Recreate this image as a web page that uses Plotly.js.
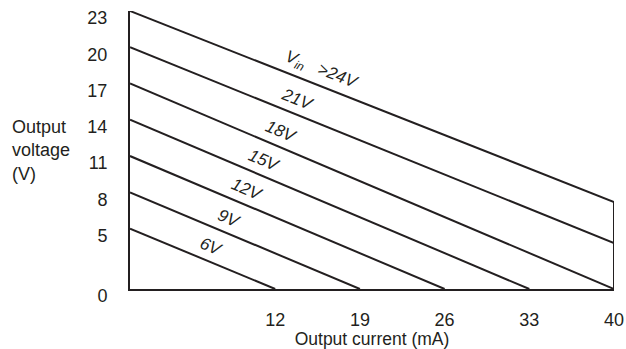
<!DOCTYPE html>
<html>
<head>
<meta charset="utf-8">
<script src="https://cdn.plot.ly/plotly-3.0.1.min.js"></script>
<style>html,body{margin:0;padding:0;background:#fff;}#chart{width:626px;height:349px;}</style>
</head>
<body>
<div id="chart"></div>
<script>
// ---- data ----
const inputLabels   = ['>24V', '21V', '18V', '15V', '12V', '9V', '6V'];
const startVoltage  = [23, 20, 17, 14, 11, 8, 5];        // V at 0 mA
const endCurrent    = [40, 40, 40, 33, 26, 19, 12];      // mA at end of line
const endVoltage    = [7.2, 3.8, 0, 0, 0, 0, 0];         // V at end of line
const voltageTicks  = [0, 5, 8, 11, 14, 17, 20, 23];
const currentTicks  = [12, 19, 26, 33, 40];

// ---- placement of the rotated line labels (current along each line, mA) ----
const labelCurrent  = [15.7, 13.7, 12.3, 10.9, 9.5, 8.0, 6.5];

const W = 626, H = 349;
const M = {l: 130, r: 12, t: 11, b: 60};
const xRange = [0, 40], yRange = [0, 23];
const ink = '#231f20';
const fontFam = '"Liberation Sans", Arial, Helvetica, sans-serif';

const traces = inputLabels.map((lab, i) => ({
  type: 'scatter', mode: 'lines', name: lab,
  x: [0, endCurrent[i]], y: [startVoltage[i], endVoltage[i]],
  line: {color: ink, width: 2}, hoverinfo: 'skip'
}));
// vertical limit at the right end of the top line
traces.push({
  type: 'scatter', mode: 'lines', name: 'limit',
  x: [endCurrent[0], endCurrent[0]], y: [0, endVoltage[0]],
  line: {color: ink, width: 2}, hoverinfo: 'skip'
});

const pw = W - M.l - M.r, ph = H - M.t - M.b;
const pxPerX = pw / (xRange[1] - xRange[0]);
const pxPerY = ph / (yRange[1] - yRange[0]);

const annotations = inputLabels.map((lab, i) => {
  const slope = (endVoltage[i] - startVoltage[i]) / endCurrent[i];
  const xv = labelCurrent[i];
  const yv = startVoltage[i] + slope * xv;
  const ang = Math.atan(-slope * pxPerY / pxPerX) * 180 / Math.PI;
  const txt = i === 0 ? '<i>V<sub>in</sub>&nbsp;&nbsp;&nbsp;' + lab.replace('>', '&gt;') + '</i>' : '<i>' + lab + '</i>';
  return {
    x: xv, y: yv, xref: 'x', yref: 'y', text: txt, showarrow: false,
    textangle: ang, yshift: 15, xshift: 2,
    font: {family: fontFam, size: 17, color: ink}
  };
});
annotations.push({
  xref: 'paper', yref: 'paper', x: (10 - M.l) / pw, y: 1 - (150 - M.t) / ph,
  xanchor: 'left', yanchor: 'middle', align: 'left', showarrow: false,
  text: 'Output<br>voltage<br>(V)',
  font: {family: fontFam, size: 18, color: ink}
});

const layout = {
  width: W, height: H,
  margin: M,
  paper_bgcolor: '#fff', plot_bgcolor: '#fff',
  showlegend: false,
  font: {family: fontFam, size: 17, color: ink},
  xaxis: {
    range: xRange, tickvals: currentTicks, ticktext: currentTicks.map(String),
    showgrid: false, zeroline: false, showline: true, linecolor: ink, linewidth: 2,
    ticks: '', ticklabelstandoff: 13,
    tickfont: {family: fontFam, size: 18, color: ink},
    title: {text: 'Output current (mA)', standoff: 0, font: {family: fontFam, size: 17.5, color: ink}},
    automargin: false, fixedrange: true
  },
  yaxis: {
    range: yRange, tickvals: voltageTicks, ticktext: voltageTicks.map(String),
    showgrid: false, zeroline: false, showline: true, linecolor: ink, linewidth: 2,
    ticks: '', ticklabelstandoff: 17, ticklabelshift: 7,
    tickfont: {family: fontFam, size: 18, color: ink},
    automargin: false, fixedrange: true
  },
  annotations: annotations
};

Plotly.newPlot('chart', traces, layout, {staticPlot: true, displayModeBar: false});
</script>
</body>
</html>
